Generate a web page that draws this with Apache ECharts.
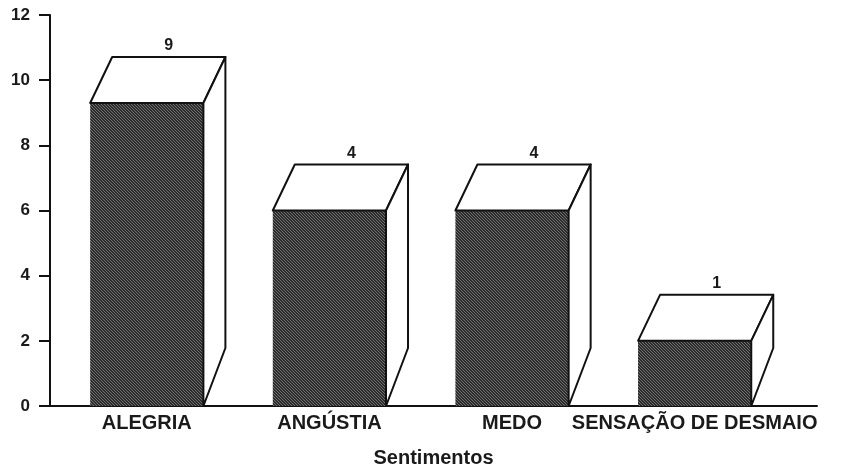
<!DOCTYPE html>
<html>
<head>
<meta charset="utf-8">
<script src="https://cdn.jsdelivr.net/npm/echarts@6/dist/echarts.min.js"></script>
<style>html,body{margin:0;padding:0;background:#fff;}#c{width:848px;height:473px;}</style>
</head>
<body>
<div id="c"></div>
<script>
// ---- data ----
const categories = ['ALEGRIA', 'ANGÚSTIA', 'MEDO', 'SENSAÇÃO DE DESMAIO'];
const barHeights = [9.3, 6, 6, 2];       // bar top read against the y axis
const printedCounts = [9, 4, 4, 1];      // numbers printed above each bar
const yTicks = [0, 2, 4, 6, 8, 10, 12];
const xTitle = 'Sentimentos';

// ---- layout helpers ----
const slotOffset = 0.53;   // category centre inside its unit slot
const barWidth = 0.62;     // in x-axis units
const centres = categories.map((c, i) => i + slotOffset);

function makeHatch() {
  const cv = document.createElement('canvas');
  cv.width = 3; cv.height = 3;
  const g = cv.getContext('2d');
  g.fillStyle = '#2c2c2c';
  g.fillRect(0, 0, 3, 3);
  g.fillStyle = '#707070';
  for (let k = 0; k < 3; k++) g.fillRect(k, k, 1, 1);
  return cv;
}
const hatch = makeHatch();

const chart = echarts.init(document.getElementById('c'), null, { renderer: 'canvas' });
const font = '"Liberation Sans", Arial, sans-serif';

chart.setOption({
  backgroundColor: '#ffffff',
  animation: false,
  grid: { left: 50, right: 31, top: 15, bottom: 63, containLabel: false },
  xAxis: {
    type: 'value', min: 0, max: 4.2,
    splitLine: { show: false },
    axisLine: { show: true, lineStyle: { color: '#111', width: 2 } },
    axisTick: { show: false },
    axisLabel: {
      show: true,
      customValues: centres,
      margin: 7,
      color: '#1a1a1a', fontFamily: font, fontWeight: 'bold', fontSize: 20,
      formatter: function (v) {
        const idx = Math.round(v - slotOffset);
        return categories[idx] || '';
      }
    },
    name: xTitle,
    nameLocation: 'middle',
    nameGap: 42,
    nameTextStyle: { color: '#1a1a1a', fontFamily: font, fontWeight: 'bold', fontSize: 20 }
  },
  yAxis: {
    type: 'value', min: yTicks[0], max: yTicks[yTicks.length - 1], interval: 2,
    splitLine: { show: false },
    axisLine: { show: true, lineStyle: { color: '#111', width: 2 } },
    axisTick: { show: true, inside: false, length: 11, lineStyle: { color: '#111', width: 2 } },
    axisLabel: { margin: 20, color: '#1a1a1a', fontFamily: font, fontWeight: 'bold', fontSize: 17 }
  },
  series: [{
    type: 'custom',
    data: barHeights.map((h, i) => [centres[i], h]),
    clip: false,
    renderItem: function (params, api) {
      const i = params.dataIndex;
      const xc = api.value(0), h = api.value(1);
      const pTop = api.coord([xc - barWidth / 2, h]);
      const pBot = api.coord([xc + barWidth / 2, 0]);
      const x0 = pTop[0], x1 = pBot[0], yt = pTop[1], yb = pBot[1];
      const dx = 22, dy = -46, backBottom = yb - 58;
      const stroke = { stroke: '#111', lineWidth: 2, lineJoin: 'round' };
      return {
        type: 'group',
        children: [
          { type: 'rect', shape: { x: x0, y: yt, width: x1 - x0, height: yb - yt },
            style: { fill: { image: hatch, repeat: 'repeat' } } },
          { type: 'polygon', shape: { points: [[x0, yt], [x0 + dx, yt + dy], [x1 + dx, yt + dy], [x1, yt]] },
            style: Object.assign({ fill: '#fff' }, stroke) },
          { type: 'polygon', shape: { points: [[x1, yt], [x1 + dx, yt + dy], [x1 + dx, Math.max(backBottom, yt + dy)], [x1, yb]] },
            style: Object.assign({ fill: '#fff' }, stroke) },
          { type: 'text',
            style: { text: String(printedCounts[i]), x: (x0 + x1) / 2 + dx, y: yt + dy - 3,
              align: 'center', verticalAlign: 'bottom',
              fill: '#1a1a1a', font: 'bold 16px ' + font } }
        ]
      };
    }
  }]
});
</script>
</body>
</html>
